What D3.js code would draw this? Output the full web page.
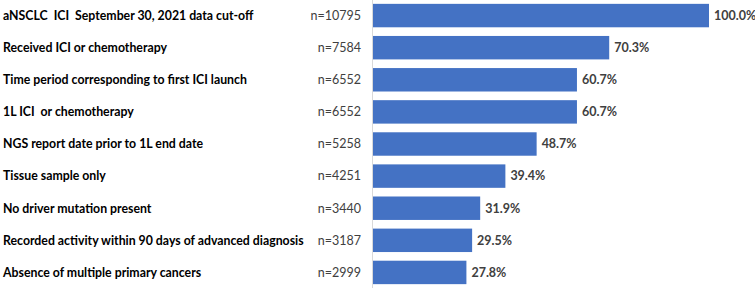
<!DOCTYPE html>
<html>
<head>
<meta charset="utf-8">
<script src="https://cdn.jsdelivr.net/npm/d3@7"></script>
<style>
  body { margin: 0; background: #fff; }
  svg { display: block; font-family: Lato, "Open Sans", sans-serif; }
</style>
</head>
<body>
<div id="chart-area"></div>
<script>
// steps in the cohort selection
var steps = [
    'aNSCLC  ICI  September 30, 2021 data cut-off',
    'Received ICI or chemotherapy',
    'Time period corresponding to first ICI launch',
    '1L ICI  or chemotherapy',
    'NGS report date prior to 1L end date',
    'Tissue sample only',
    'No driver mutation present',
    'Recorded activity within 90 days of advanced diagnosis',
    'Absence of multiple primary cancers'
];
var counts = [10795, 7584, 6552, 6552, 5258, 4251, 3440, 3187, 2999];
var pcts = [100.0, 70.3, 60.7, 60.7, 48.7, 39.4, 31.9, 29.5, 27.8];

var def = {
    width: 755,
    height: 288,
    x0: 373,
    x1: 709,
    top: 0,
    bottom: 288
};

var svg = d3.select('#chart-area').append('svg')
    .attr('width', def.width)
    .attr('height', def.height);

var x = d3.scaleLinear()
    .domain([0, 100])
    .range([def.x0, def.x1]);

var y = d3.scaleBand()
    .domain(steps)
    .range([def.top, def.bottom])
    .paddingInner(0.27)
    .paddingOuter(0.12);

// gray axis line
svg.append('line')
    .attr('x1', x(0) - 0.5).attr('x2', x(0) - 0.5)
    .attr('y1', 0).attr('y2', def.height)
    .attr('stroke', '#d9d9d9')
    .attr('stroke-width', 1);

svg.selectAll('rect.bar')
    .data(pcts)
    .enter()
    .append('rect')
    .attr('class', 'bar')
    .attr('x', x(0))
    .attr('y', (d, i) => y(steps[i]))
    .attr('width', d => x(d) - x(0))
    .attr('height', y.bandwidth())
    .attr('fill', '#4472c4');

// category labels
svg.selectAll('text.cat')
    .data(steps)
    .enter()
    .append('text')
    .attr('class', 'cat')
    .attr('x', 3)
    .attr('y', d => y(d) + y.bandwidth() / 2)
    .attr('dy', '0.35em')
    .attr('font-size', '12.3px')
    .attr('font-weight', 'bold')
    .attr('fill', '#000')
    .style('white-space', 'pre')
    .text(d => d);

// n= labels
svg.selectAll('text.n')
    .data(counts)
    .enter()
    .append('text')
    .attr('class', 'n')
    .attr('x', 361)
    .attr('y', (d, i) => y(steps[i]) + y.bandwidth() / 2)
    .attr('dy', '0.35em')
    .attr('text-anchor', 'end')
    .attr('font-size', '12.5px')
    .attr('fill', '#404040')
    .text(d => 'n=' + d);

// percent labels
svg.selectAll('text.pct')
    .data(pcts)
    .enter()
    .append('text')
    .attr('class', 'pct')
    .attr('x', d => x(d) + 5)
    .attr('y', (d, i) => y(steps[i]) + y.bandwidth() / 2)
    .attr('dy', '0.35em')
    .attr('font-size', '12.5px')
    .attr('font-weight', 'bold')
    .attr('fill', '#404040')
    .text(d => d3.format('.1f')(d) + '%');
</script>
</body>
</html>
